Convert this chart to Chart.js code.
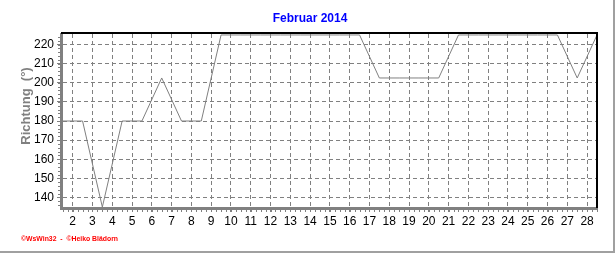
<!DOCTYPE html>
<html>
<head>
<meta charset="utf-8">
<script src="https://cdn.jsdelivr.net/npm/chart.js@4/dist/chart.umd.min.js"></script>
<style>
  html, body { margin: 0; padding: 0; background: #fff; }
  #wrap { width: 616px; height: 253px; position: relative; }
</style>
</head>
<body>
<div id="wrap"><canvas id="chart" width="616" height="253"></canvas></div>
<script>
// Windrichtung Februar 2014, ein Wert pro Tag (Mitte des Tages)
const days = [1, 2, 3, 4, 5, 6, 7, 8, 9, 10, 11, 12, 13, 14, 15, 16, 17, 18, 19, 20, 21, 22, 23, 24, 25, 26, 27, 28];
const richtung = [180, 180, 135, 180, 180, 202.5, 180, 180, 225, 225, 225, 225, 225, 225, 225, 225,
                  202.5, 202.5, 202.5, 202.5, 225, 225, 225, 225, 225, 225, 202.5, 225];
const yTicks = [140, 150, 160, 170, 180, 190, 200, 210, 220];
const xTicks = [2, 3, 4, 5, 6, 7, 8, 9, 10, 11, 12, 13, 14, 15, 16, 17, 18, 19, 20, 21, 22, 23, 24, 25, 26, 27, 28];

const points = days.map((d, i) => ({ x: d + 0.5, y: richtung[i] }));

// Rahmen, Hilfsstriche, Titel und Fusszeile
const decor = {
  id: "decor",
  beforeDraw(chart) {
    const ctx = chart.ctx;
    ctx.save();
    ctx.fillStyle = "#fff";
    ctx.fillRect(0, 0, chart.width, chart.height);
    ctx.restore();
  },
  afterDraw(chart) {
    const ctx = chart.ctx;
    const a = chart.chartArea;
    const xs = chart.scales.x, ys = chart.scales.y;
    ctx.save();

    // top + right black border
    ctx.strokeStyle = "#000";
    ctx.lineWidth = 2;
    ctx.beginPath();
    ctx.moveTo(a.left, a.top - 1);
    ctx.lineTo(a.right, a.top - 1);
    ctx.lineTo(a.right, a.bottom);
    ctx.stroke();

    // minor ticks
    ctx.strokeStyle = "#808080";
    ctx.lineWidth = 1;
    ctx.beginPath();
    for (let v = Math.ceil(xs.min * 4) / 4; v <= xs.max; v += 0.25) {
      const px = Math.round(xs.getPixelForValue(v)) + 0.5;
      ctx.moveTo(px, a.bottom);
      ctx.lineTo(px, a.bottom + 4);
    }
    for (let v = 136; v <= ys.max; v += 2) {
      const py = Math.round(ys.getPixelForValue(v)) + 0.5;
      ctx.moveTo(a.left - 3, py);
      ctx.lineTo(a.left, py);
    }
    ctx.stroke();

    // title
    ctx.fillStyle = "#0000ff";
    ctx.font = "bold 12px 'Liberation Sans', Arial, sans-serif";
    ctx.textAlign = "center";
    ctx.textBaseline = "middle";
    ctx.fillText("Februar 2014", 310, 19);

    // y axis title
    ctx.save();
    ctx.translate(26, 106);
    ctx.rotate(-Math.PI / 2);
    ctx.fillStyle = "#808080";
    ctx.font = "bold 13px 'Liberation Sans', Arial, sans-serif";
    ctx.fillText("Richtung  (°)", 0, 0);
    ctx.restore();

    // footer
    ctx.fillStyle = "#ff0000";
    ctx.font = "bold 8px 'Liberation Sans', Arial, sans-serif";
    ctx.textAlign = "left";
    ctx.fillText("©WsWin32  -  ©Heiko Blädorn", 21, 239, 97);

    // outer frame
    ctx.strokeStyle = "#a0a0a0";
    ctx.lineWidth = 2;
    ctx.beginPath();
    ctx.moveTo(614, 0);
    ctx.lineTo(614, 252);
    ctx.moveTo(0, 252);
    ctx.lineTo(615, 252);
    ctx.stroke();

    ctx.restore();
  }
};

new Chart(document.getElementById("chart"), {
  type: "line",
  data: {
    datasets: [{
      data: points,
      borderColor: "#808080",
      borderWidth: 1,
      pointRadius: 0,
      tension: 0,
      fill: false
    }]
  },
  options: {
    responsive: false,
    animation: false,
    events: [],
    layout: { padding: { top: 34, right: 19, bottom: 0, left: 0 } },
    plugins: { legend: { display: false }, title: { display: false }, tooltip: { enabled: false } },
    scales: {
      x: {
        type: "linear",
        min: 1.41,
        max: 28.5,
        afterFit: s => { s.height = 45; },
        afterBuildTicks: s => { s.ticks = xTicks.map(v => ({ value: v })); },
        grid: { color: "#808080", tickLength: 4, tickColor: "#808080", drawTicks: true },
        border: { display: true, color: "#808080", width: 3, dash: [4, 3] },
        ticks: {
          color: "#000",
          padding: 2,
          maxRotation: 0,
          autoSkip: false,
          font: { family: "'Liberation Sans', Arial, sans-serif", size: 12 },
          callback: v => String(v)
        }
      },
      y: {
        min: 134.5,
        max: 225.5,
        afterFit: s => { s.width = 61; },
        afterBuildTicks: s => { s.ticks = yTicks.map(v => ({ value: v })); },
        grid: { color: "#808080", tickLength: 4, tickColor: "#808080" },
        border: { display: true, color: "#808080", width: 3, dash: [4, 3] },
        ticks: {
          color: "#000",
          padding: 3,
          font: { family: "'Liberation Sans', Arial, sans-serif", size: 12 },
          callback: v => String(v)
        }
      }
    }
  },
  plugins: [decor]
});
</script>
</body>
</html>
